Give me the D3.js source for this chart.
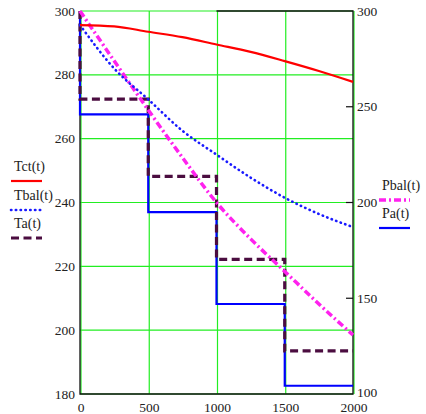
<!DOCTYPE html>
<html>
<head>
<meta charset="utf-8">
<script src="https://cdn.jsdelivr.net/npm/d3@7"></script>
<style>
  body { margin: 0; background: #fff; }
  text { font-family: "Liberation Serif", "Times New Roman", serif; fill: #222; }
</style>
</head>
<body>
<div id="chart"></div>
<script>
// Time samples for the smooth curves
const times = [0, 250, 500, 750, 1000, 1250, 1500, 1750, 2000];
const tct  = [295.6, 295.2, 293.5, 291.8, 289.5, 287.2, 284.3, 281.2, 277.8];
const tbal = [295.6, 282, 272.3, 262.5, 255, 247.8, 241.5, 236.4, 232.3];
const pbal = [300, 274, 248.3, 223.5, 200, 181, 164, 147, 130.8];

// Step series: breakpoints and levels
const stepTimes = [0, 500, 1000, 1500, 2000];
const taStart = 300;
const taLevels = [272.4, 248.2, 222.2, 193.5];
const paStart = 300;
const paLevels = [246, 195, 147, 104.3];

// Ticks
const xTicks = [0, 500, 1000, 1500, 2000];
const leftTicks = [180, 200, 220, 240, 260, 280, 300];
const rightTicks = [100, 150, 200, 250, 300];

const width = 426, height = 414;
const margin = { top: 11, right: 73, bottom: 20, left: 80 };

const svg = d3.select("#chart").append("svg")
    .attr("width", width)
    .attr("height", height);

const x = d3.scaleLinear().domain([0, 2000]).range([margin.left, width - margin.right]);
const yL = d3.scaleLinear().domain([180, 300]).range([height - margin.bottom, margin.top]);
const yR = d3.scaleLinear().domain([100, 300]).range([height - margin.bottom, margin.top]);

// Green grid
const grid = svg.append("g").attr("stroke", "#22ee22").attr("stroke-width", 1.2);
grid.selectAll(".gh").data(leftTicks).join("line")
    .attr("x1", x(0)).attr("x2", x(2000))
    .attr("y1", d => yL(d)).attr("y2", d => yL(d));
grid.selectAll(".gv").data(xTicks).join("line")
    .attr("x1", d => x(d) + 1).attr("x2", d => x(d) + 1)
    .attr("y1", yL(300)).attr("y2", yL(180));

// Frame (left, bottom, right, top-right in black)
const frame = svg.append("g").attr("stroke", "#111").attr("stroke-width", 1.3).attr("fill", "none");
frame.append("path")
    .attr("d", `M${x(0)},${yL(300)} V${yL(180)} H${x(2000)} V${yL(300)} H${x(1000)}`);

// Right axis tick marks
svg.append("g").selectAll("line").data(rightTicks.slice(1, 4)).join("line")
    .attr("x1", x(2000) - 7).attr("x2", x(2000))
    .attr("y1", d => yR(d)).attr("y2", d => yR(d))
    .attr("stroke", "#111").attr("stroke-width", 1.2);

// Tick labels
svg.append("g").selectAll("text").data(leftTicks).join("text")
    .attr("x", x(0) - 5).attr("y", d => yL(d))
    .attr("text-anchor", "end").attr("dominant-baseline", "central")
    .attr("font-size", 13.5).text(d => d);
svg.append("g").selectAll("text").data(rightTicks).join("text")
    .attr("x", x(2000) + 4).attr("y", d => yR(d) - (d === 100 ? 1.5 : 0))
    .attr("dominant-baseline", "central")
    .attr("font-size", 13.5).text(d => d);
svg.append("g").selectAll("text").data(xTicks).join("text")
    .attr("x", d => x(d) + 1).attr("y", height - 2.5)
    .attr("text-anchor", "middle")
    .attr("font-size", 13.5).text(d => d);

// Build step points from the levels
const stepPoints = (start, levels) => {
    const pts = [[0, start]];
    levels.forEach((v, i) => {
        pts.push([stepTimes[i], v]);
        pts.push([stepTimes[i + 1], v]);
    });
    return pts;
};

const lineL = d3.line().x(d => x(d[0])).y(d => yL(d[1]));
const lineR = d3.line().x(d => x(d[0])).y(d => yR(d[1]));
const smoothL = d3.line().x((d, i) => x(times[i])).y(d => yL(d)).curve(d3.curveMonotoneX);
const smoothR = d3.line().x((d, i) => x(times[i])).y(d => yR(d)).curve(d3.curveMonotoneX);

const styles = {
    tct:  { stroke: "#ff0000", width: 2.2, dash: null, cap: "butt" },
    tbal: { stroke: "#1a1aff", width: 2.6, dash: "0.4,4.4", cap: "round" },
    ta:   { stroke: "#4b0d40", width: 3.2, dash: "8,4.5", cap: "butt" },
    pbal: { stroke: "#ff22ee", width: 3.5, dash: "7,3,2,3", cap: "butt" },
    pa:   { stroke: "#0000ff", width: 2.2, dash: null, cap: "butt" }
};

const drawPath = (d, s) => svg.append("path")
    .attr("d", d)
    .attr("fill", "none")
    .attr("stroke", s.stroke)
    .attr("stroke-width", s.width)
    .attr("stroke-dasharray", s.dash)
    .attr("stroke-linecap", s.cap);

drawPath(lineR(stepPoints(paStart, paLevels)), styles.pa);
drawPath(lineL(stepPoints(taStart, taLevels)), styles.ta);
drawPath(smoothR(pbal), styles.pbal);
drawPath(smoothL(tbal), styles.tbal);
drawPath(smoothL(tct), styles.tct);

// Legends
const legendItems = [
    { label: "Tct(t)", key: "tct", x: 14, y: 171 },
    { label: "Tbal(t)", key: "tbal", x: 14, y: 200 },
    { label: "Ta(t)", key: "ta", x: 14, y: 228 },
    { label: "Pbal(t)", key: "pbal", x: 382, y: 190 },
    { label: "Pa(t)", key: "pa", x: 382, y: 218 }
];

legendItems.forEach(item => {
    const s = styles[item.key];
    svg.append("text")
        .attr("x", item.x).attr("y", item.y)
        .attr("font-size", 14)
        .text(item.label);
    svg.append("line")
        .attr("x1", item.x - 3).attr("x2", item.x + 28)
        .attr("y1", item.y + 10).attr("y2", item.y + 10)
        .attr("stroke", s.stroke)
        .attr("stroke-width", s.width)
        .attr("stroke-dasharray", s.dash)
        .attr("stroke-linecap", s.cap);
});
</script>
</body>
</html>
